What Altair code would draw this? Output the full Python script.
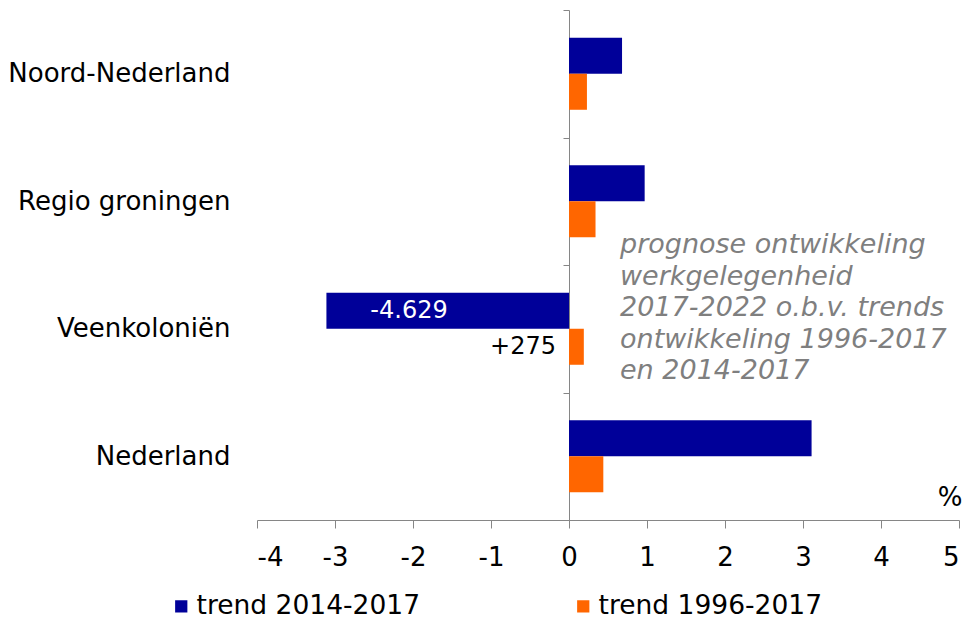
import altair as alt
import pandas as pd

regions = ["Noord-Nederland", "Regio groningen", "Veenkoloniën", "Nederland"]
series = ["trend 2014-2017", "trend 1996-2017"]
trend_2014_2017 = [0.68, 0.97, -3.11, 3.11]
trend_1996_2017 = [0.23, 0.34, 0.19, 0.44]
colors = ["#000099", "#FF6600"]
x_ticks = [-4, -3, -2, -1, 0, 1, 2, 3, 4, 5]

label_region = "Veenkoloniën"
label_texts = ["-4.629", "+275"]

note_lines = [
    "prognose ontwikkeling",
    "werkgelegenheid",
    "2017-2022 o.b.v. trends",
    "ontwikkeling 1996-2017",
    "en 2014-2017",
]

rows = []
for r, a, b in zip(regions, trend_2014_2017, trend_1996_2017):
    rows.append({"region": r, "series": series[0], "value": a})
    rows.append({"region": r, "series": series[1], "value": b})
df = pd.DataFrame(rows)

lab_df = pd.DataFrame({
    "region": [label_region, label_region],
    "series": series,
    "value": [trend_2014_2017[regions.index(label_region)],
              trend_1996_2017[regions.index(label_region)]],
    "label": label_texts,
})

FONT = "DejaVu Sans"
AX_GRAY = "#868686"

x_scale = alt.Scale(domain=[-4, 5], nice=False, zero=False)
y_scale = alt.Scale(paddingInner=0.435, paddingOuter=0.2175)
yoff_scale = alt.Scale(paddingInner=0, paddingOuter=0)

x_axis = alt.Axis(values=x_ticks, labelExpr="'' + datum.value", grid=False,
                  domainColor=AX_GRAY, tickColor=AX_GRAY, tickSize=8,
                  labelFontSize=26, labelFont=FONT, labelColor="black",
                  labelPadding=16, title=None)
y_axis = alt.Axis(title=None, offset=-312, labelPadding=333, tickOffset=-63.75,
                  labelOffset=63.75,
                  tickSize=6, domainColor=AX_GRAY, tickColor=AX_GRAY,
                  labelFontSize=26, labelFont=FONT, labelColor="black",
                  labelLimit=400, grid=False)

bars = alt.Chart(df).mark_bar().encode(
    x=alt.X("value:Q", scale=x_scale, axis=x_axis),
    y=alt.Y("region:N", sort=regions, scale=y_scale, axis=y_axis),
    yOffset=alt.YOffset("series:N", sort=series, scale=yoff_scale),
    color=alt.Color("series:N", sort=series,
                    scale=alt.Scale(domain=series, range=colors),
                    legend=alt.Legend(title=None, orient="none", direction="horizontal",
                                      legendX=-89, legendY=583, symbolType="square",
                                      symbolSize=150, symbolStrokeWidth=0,
                                      labelFontSize=26.5, labelFont=FONT,
                                      labelColor="black", labelOffset=2,
                                      columnPadding=150, labelLimit=400)),
)

blue_lab = alt.Chart(lab_df.iloc[[0]]).transform_calculate(
    mid="datum.value / 2"
).mark_text(align="right", baseline="middle", color="white",
            fontSize=24, font=FONT).encode(
    x=alt.X("mid:Q", scale=x_scale, title=None),
    y=alt.Y("region:N", sort=regions, title=None),
    yOffset=alt.YOffset("series:N", sort=series),
    text="label:N",
)

orange_lab = alt.Chart(lab_df.iloc[[1]]).mark_text(
    align="right", baseline="middle", color="black", fontSize=24, font=FONT, dx=-13
).encode(
    x=alt.datum(0),
    y=alt.Y("region:N", sort=regions, title=None),
    yOffset=alt.YOffset("series:N", sort=series),
    text="label:N",
)

note = alt.Chart(pd.DataFrame({"t": [0]})).mark_text(
    align="left", baseline="alphabetic", fontSize=27, font=FONT,
    fontStyle="italic", color="#7f7f7f", lineHeight=31.5
).encode(
    x=alt.value(363), y=alt.value(243), text=alt.value(note_lines)
)

pct = alt.Chart(pd.DataFrame({"t": [0]})).mark_text(
    align="center", baseline="middle", fontSize=26, font=FONT, color="black"
).encode(
    x=alt.value(693), y=alt.value(488), text=alt.value("%")
)

chart = alt.layer(bars, blue_lab, orange_lab, note, pct).properties(
    width=702, height=510,
    autosize=alt.AutoSizeParams(type="none"),
    padding={"left": 249, "top": 2, "right": 9, "bottom": 110},
    background="white",
).configure(font=FONT).configure_view(stroke=None)

chart.save("out.html", embed_options={"renderer": "svg", "actions": False})
